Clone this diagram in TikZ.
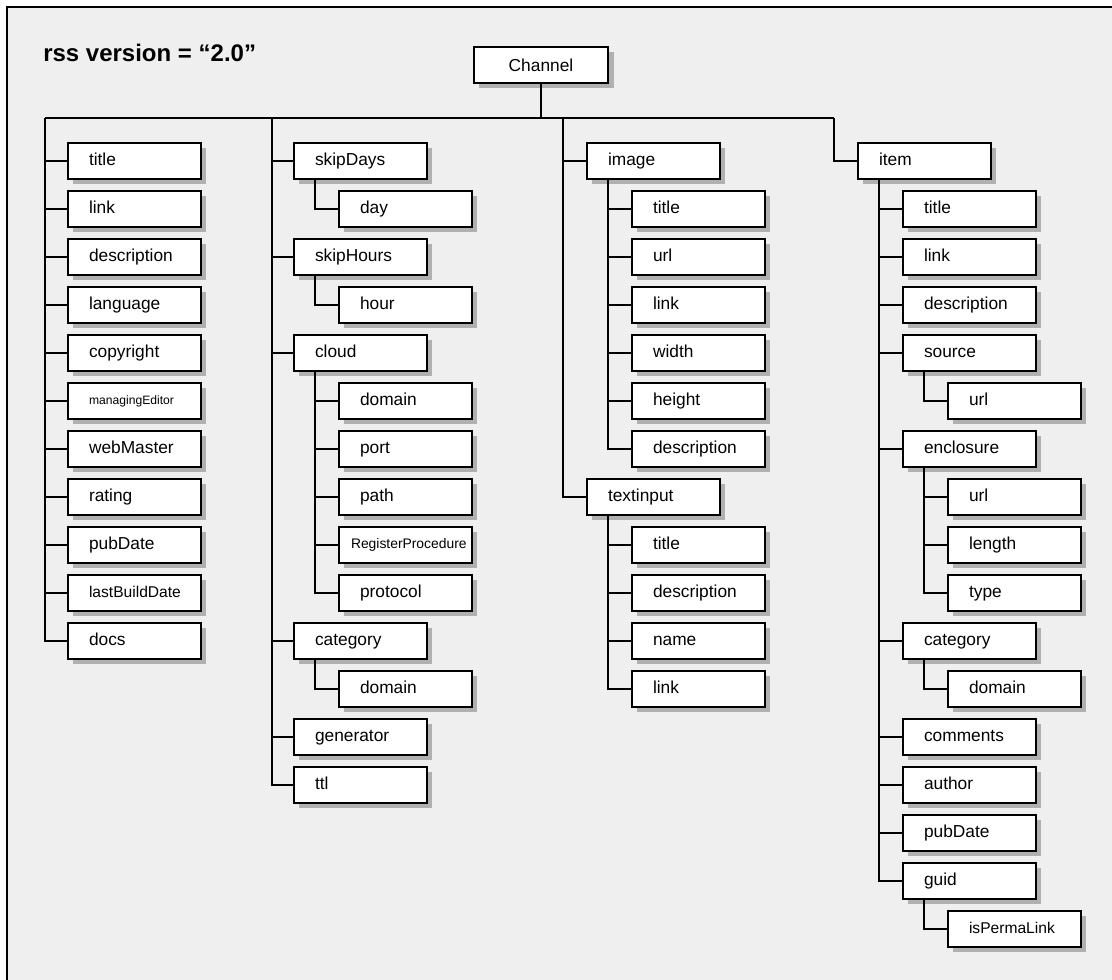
\documentclass[tikz,border=0pt]{standalone}
\usepackage{fontspec}
\setmainfont{Liberation Sans}
\usetikzlibrary{shadows}
\definecolor{paper}{RGB}{239,239,239}
\definecolor{shade}{RGB}{176,176,176}
\tikzset{
  box indent/.store in=\treeindent,
  box indent=15.75pt,
  treebox/.style={draw=black, fill=white, line width=1.5pt,
    text width=99.75pt, minimum height=27pt, inner xsep=0pt, inner ysep=0pt,
    align=left, anchor=west, font=\fontsize{13}{15}\selectfont,
    general shadow={fill=shade, shadow xshift=4pt, shadow yshift=-4pt},
    execute at begin node={\hspace*{\treeindent}\vphantom{Ag}}},
  chanbox/.style={draw=black, fill=white, line width=1.5pt,
    minimum width=101pt, minimum height=27pt, inner sep=0pt,
    font=\fontsize{13}{15}\selectfont,
    general shadow={fill=shade, shadow xshift=4pt, shadow yshift=-4pt}},
  smaller/.style={font=\fontsize{11.7}{14}\selectfont},
  small/.style={font=\fontsize{10.4}{12}\selectfont, box indent=9pt},
  tiny/.style={font=\fontsize{9.1}{11}\selectfont},
  wire/.style={line width=1.5pt},
}
\begin{document}
\begin{tikzpicture}[x=0.75pt,y=-0.75pt]
  % page and framed panel
  \fill[white] (0,0) rectangle (1112,980);
  \useasboundingbox (0,0) rectangle (1112,980);
  \fill[paper] (7,7) rectangle (1112,980);
  \draw[line width=2pt] (7,980) -- (7,7) -- (1112,7);

  \node[anchor=base west, inner sep=0pt, font=\bfseries\fontsize{18}{22}\selectfont]
    (heading) at (43,62) {rss version = “2.0”};

  \node[chanbox] (channel) at (541,65) {Channel};

  % bus junctions
  \coordinate (j1) at (45,118);
  \coordinate (j2) at (272,118);
  \coordinate (j3) at (563,118);
  \coordinate (j4) at (834,118);

  % column 1
  \node[treebox] (ctitle) at (67,161) {title};
  \node[treebox] (clink) at (67,209) {link};
  \node[treebox] (cdesc) at (67,257) {description};
  \node[treebox] (clang) at (67,305) {language};
  \node[treebox] (ccopy) at (67,353) {copyright};
  \node[treebox, tiny] (cmanag) at (67,401) {managingEditor};
  \node[treebox] (cweb) at (67,449) {webMaster};
  \node[treebox] (crating) at (67,497) {rating};
  \node[treebox] (cpub) at (67,545) {pubDate};
  \node[treebox, smaller] (cbuild) at (67,593) {lastBuildDate};
  \node[treebox] (cdocs) at (67,641) {docs};

  % column 2
  \node[treebox] (skipdays) at (293,161) {skipDays};
  \node[treebox] (day) at (338,209) {day};
  \node[treebox] (skiphours) at (293,257) {skipHours};
  \node[treebox] (hour) at (338,305) {hour};
  \node[treebox] (cloud) at (293,353) {cloud};
  \node[treebox] (clddomain) at (338,401) {domain};
  \node[treebox] (port) at (338,449) {port};
  \node[treebox] (path) at (338,497) {path};
  \node[treebox, small] (regproc) at (338,545) {RegisterProcedure};
  \node[treebox] (protocol) at (338,593) {protocol};
  \node[treebox] (category) at (293,641) {category};
  \node[treebox] (catdomain) at (338,689) {domain};
  \node[treebox] (generator) at (293,737) {generator};
  \node[treebox] (ttl) at (293,785) {ttl};

  % column 3
  \node[treebox] (image) at (586,161) {image};
  \node[treebox] (ititle) at (631,209) {title};
  \node[treebox] (iurl) at (631,257) {url};
  \node[treebox] (ilink) at (631,305) {link};
  \node[treebox] (iwidth) at (631,353) {width};
  \node[treebox] (iheight) at (631,401) {height};
  \node[treebox] (idesc) at (631,449) {description};
  \node[treebox] (textinput) at (586,497) {textinput};
  \node[treebox] (ttitle) at (631,545) {title};
  \node[treebox] (tdesc) at (631,593) {description};
  \node[treebox] (tname) at (631,641) {name};
  \node[treebox] (tlink) at (631,689) {link};

  % column 4
  \node[treebox] (item) at (857,161) {item};
  \node[treebox] (ntitle) at (902,209) {title};
  \node[treebox] (nlink) at (902,257) {link};
  \node[treebox] (ndesc) at (902,305) {description};
  \node[treebox] (source) at (902,353) {source};
  \node[treebox] (surl) at (947,401) {url};
  \node[treebox] (enclosure) at (902,449) {enclosure};
  \node[treebox] (eurl) at (947,497) {url};
  \node[treebox] (elength) at (947,545) {length};
  \node[treebox] (etype) at (947,593) {type};
  \node[treebox] (ncat) at (902,641) {category};
  \node[treebox] (ncatdom) at (947,689) {domain};
  \node[treebox] (comments) at (902,737) {comments};
  \node[treebox] (author) at (902,785) {author};
  \node[treebox] (npub) at (902,833) {pubDate};
  \node[treebox] (guid) at (902,881) {guid};
  \node[treebox, smaller] (perma) at (947,929) {isPermaLink};

  % connectors
  \draw[wire] (channel.south) -- (channel.south |- j1);
  \draw[wire] (j1) -- (j4);
  \foreach \n in {ctitle,clink,cdesc,clang,ccopy,cmanag,cweb,crating,cpub,cbuild,cdocs}
    \draw[wire] (j1) |- (\n.west);
  \foreach \n in {skipdays,skiphours,cloud,category,generator,ttl}
    \draw[wire] (j2) |- (\n.west);
  \foreach \n in {image,textinput}
    \draw[wire] (j3) |- (\n.west);
  \foreach \n in {item}
    \draw[wire] (j4) |- (\n.west);

  \foreach \p/\c in {skipdays/day, skiphours/hour,
      cloud/clddomain, cloud/port, cloud/path, cloud/regproc, cloud/protocol,
      category/catdomain,
      image/ititle, image/iurl, image/ilink, image/iwidth, image/iheight, image/idesc,
      textinput/ttitle, textinput/tdesc, textinput/tname, textinput/tlink,
      item/ntitle, item/nlink, item/ndesc, item/source, item/enclosure, item/ncat,
      item/comments, item/author, item/npub, item/guid,
      source/surl, enclosure/eurl, enclosure/elength, enclosure/etype,
      ncat/ncatdom, guid/perma}
    \draw[wire] ([xshift=16.5pt]\p.south west) |- (\c.west);
\end{tikzpicture}
\end{document}
